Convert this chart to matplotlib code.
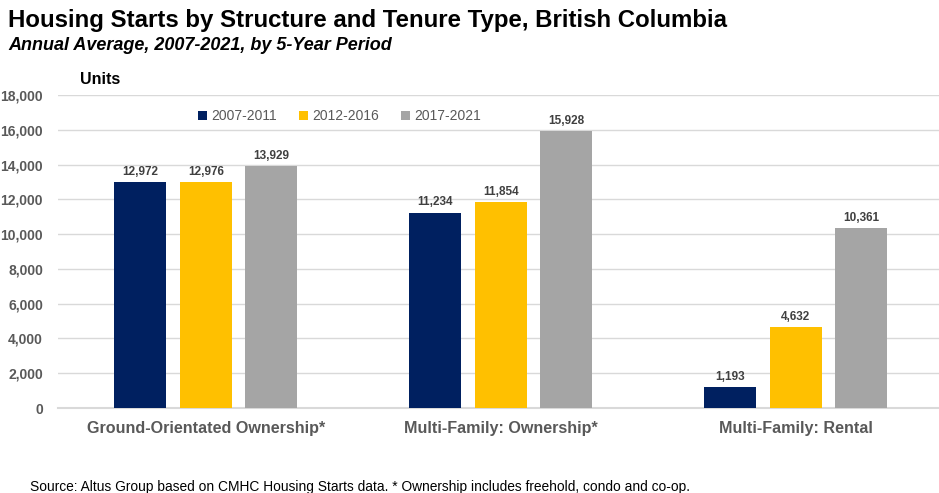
import matplotlib
matplotlib.use("Agg")
import matplotlib.pyplot as plt
import numpy as np

categories = ["Ground-Orientated Ownership*", "Multi-Family: Ownership*", "Multi-Family: Rental"]
periods = ["2007-2011", "2012-2016", "2017-2021"]
v_2007_2011 = [12972, 11234, 1193]
v_2012_2016 = [12976, 11854, 4632]
v_2017_2021 = [13929, 15928, 10361]
colors = ["#002060", "#FFC000", "#A5A5A5"]

plt.rcParams['font.family'] = ['Liberation Sans', 'DejaVu Sans']

fig = plt.figure(figsize=(9.39, 4.93), dpi=100)
ax = fig.add_axes([58.2/939, (493-408)/493, 885/939, (408-95)/493])

x = np.arange(len(categories))
w = 0.175
pitch = 0.222
series = [v_2007_2011, v_2012_2016, v_2017_2021]
for i, (vals, c, lab) in enumerate(zip(series, colors, periods)):
    bars = ax.bar(x + (i - 1) * pitch, vals, width=w, color=c, label=lab, zorder=3)
    for b, v in zip(bars, vals):
        ax.annotate(f"{v:,}", (b.get_x() + b.get_width() / 2, v), xytext=(0, 3),
                    textcoords="offset points", ha="center", va="bottom",
                    fontsize=8.5, fontweight="bold", color="#404040")

ax.set_xlim(-0.5, 2.5)
ax.set_ylim(0, 18000)
ax.set_yticks(np.arange(0, 18001, 2000))
ax.set_yticklabels([f"{t:,}" for t in range(0, 18001, 2000)])
ax.set_xticks(x)
ax.set_xticklabels(categories)
ax.yaxis.grid(True, color="#D9D9D9", linewidth=1, zorder=0)
for s in ["top", "right", "left"]:
    ax.spines[s].set_visible(False)
ax.spines["bottom"].set_color("#D9D9D9")
ax.spines["bottom"].set_linewidth(1.5)
ax.tick_params(axis="both", length=0)
ax.tick_params(axis="y", pad=11, labelsize=10, labelcolor="#595959")
ax.tick_params(axis="x", pad=9, labelsize=11.6, labelcolor="#595959")
for t in ax.get_yticklabels():
    t.set_fontweight("bold")
for t in ax.get_xticklabels():
    t.set_fontweight("bold")

leg = ax.legend(loc="upper center", bbox_to_anchor=(0.318, 0.995), ncol=3, frameon=False,
                fontsize=10, handlelength=0.65, handleheight=0.65, handletextpad=0.3,
                columnspacing=1.6, labelcolor="#595959")

fig.text(8/939, 1 - 20/493, "Housing Starts by Structure and Tenure Type, British Columbia",
         fontsize=17.3, fontweight="bold", color="black", va="center", ha="left")
fig.text(8/939, 1 - 45/493, "Annual Average, 2007-2021, by 5-Year Period",
         fontsize=13, fontweight="bold", style="italic", color="black", va="center", ha="left")
fig.text(80/939, 1 - 80/493, "Units", fontsize=11.5, fontweight="bold", color="black",
         va="center", ha="left")
fig.text(30/939, 1 - 487/493,
         "Source: Altus Group based on CMHC Housing Starts data. * Ownership includes freehold, condo and co-op.",
         fontsize=9.95, color="black", va="center", ha="left")

fig.savefig("out.png", dpi=100)
